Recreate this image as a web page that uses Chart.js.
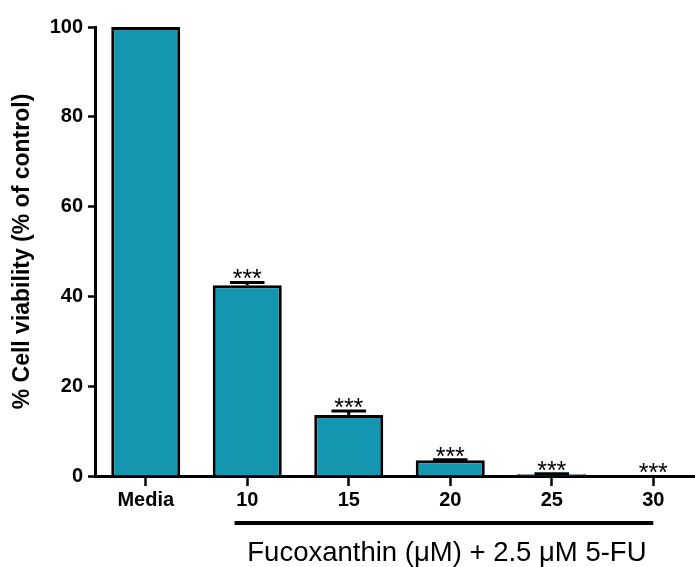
<!DOCTYPE html>
<html>
<head>
<meta charset="utf-8">
<script src="https://cdn.jsdelivr.net/npm/chart.js@4"></script>
<style>
  html, body { margin: 0; padding: 0; background: #fff; overflow: hidden; }
  #wrap { width: 710px; height: 567px; }
</style>
</head>
<body>
<div id="wrap"><canvas id="myChart" width="710" height="567"></canvas></div>
<script>
const categories = ['Media', '10', '15', '20', '25', '30'];
const viability = [100, 42.5, 13.6, 3.5, 0.4, 0];
const sem = [0, 0.6, 0.9, 0.1, 0.1, 0];
const stars = ['', '***', '***', '***', '***', '***'];
const yTicks = [0, 20, 40, 60, 80, 100];
const yTitle = '% Cell viability (% of control)';
const groupLabel = 'Fucoxanthin (\u03BCM) + 2.5 \u03BCM 5-FU';
const groupFirst = 1;
const groupLast = 5;

// error bars, significance stars and the bracket under the treated groups
const extras = {
  id: 'extras',
  afterDatasetsDraw(chart) {
    const ctx = chart.ctx;
    const x = chart.scales.x;
    const y = chart.scales.y;
    const meta = chart.getDatasetMeta(0);
    ctx.save();
    ctx.strokeStyle = '#000';
    ctx.fillStyle = '#000';
    meta.data.forEach((bar, i) => {
      const top = y.getPixelForValue(viability[i] + sem[i]);
      const base = y.getPixelForValue(viability[i]);
      const half = bar.width / 4;
      if (sem[i] > 0) {
        ctx.lineWidth = 3;
        ctx.beginPath();
        ctx.moveTo(bar.x, base);
        ctx.lineTo(bar.x, top);
        ctx.moveTo(bar.x - half, top);
        ctx.lineTo(bar.x + half, top);
        ctx.stroke();
      }
      if (stars[i]) {
        ctx.font = '25px Arial';
        ctx.textAlign = 'center';
        ctx.textBaseline = 'alphabetic';
        ctx.fillText(stars[i], bar.x, top + 5);
      }
    });

    const step = x.getPixelForValue(1) - x.getPixelForValue(0);
    const x0 = x.getPixelForValue(groupFirst) - step * 0.125;
    const x1 = x.getPixelForValue(groupLast);
    ctx.lineWidth = 4;
    ctx.beginPath();
    ctx.moveTo(x0, 523);
    ctx.lineTo(x1, 523);
    ctx.stroke();

    ctx.font = '27.5px Arial';
    ctx.textAlign = 'center';
    ctx.textBaseline = 'alphabetic';
    ctx.fillText(groupLabel, (x0 + x1) / 2 + 3, 561);
    ctx.restore();
  }
};

const data = {
  labels: categories,
  datasets: [{
    data: viability,
    backgroundColor: '#1596b0',
    borderColor: '#000',
    borderWidth: 3,
    borderSkipped: 'bottom',
    barPercentage: 0.68,
    categoryPercentage: 1
  }]
};

const config = {
  type: 'bar',
  data: data,
  plugins: [extras],
  options: {
    responsive: false,
    animation: false,
    devicePixelRatio: 1,
    layout: { padding: { top: 27, right: 6, left: 0, bottom: 0 } },
    plugins: {
      legend: { display: false },
      tooltip: { enabled: false }
    },
    scales: {
      x: {
        border: { color: '#000', width: 3 },
        grid: { offset: false, drawOnChartArea: false, tickLength: 10, tickWidth: 2.5, tickColor: '#000' },
        ticks: { color: '#000', font: { family: 'Arial', size: 20, weight: 'bold' }, padding: 2 },
        afterFit: s => { s.height = 91; }
      },
      y: {
        min: 0,
        max: 100,
        afterBuildTicks: s => { s.ticks = yTicks.map(v => ({ value: v })); },
        border: { color: '#000', width: 3 },
        grid: { drawOnChartArea: false, tickLength: 7, tickWidth: 2.5, tickColor: '#000' },
        ticks: { color: '#000', font: { family: 'Arial', size: 20, weight: 'bold' }, padding: 5 },
        title: {
          display: true,
          text: yTitle,
          color: '#000',
          font: { family: 'Arial', size: 23, weight: 'bold' },
          padding: { top: 9, bottom: 0 }
        },
        afterFit: s => { s.width = 95; }
      }
    }
  }
};

const myChart = new Chart(document.getElementById('myChart').getContext('2d'), config);
</script>
</body>
</html>
